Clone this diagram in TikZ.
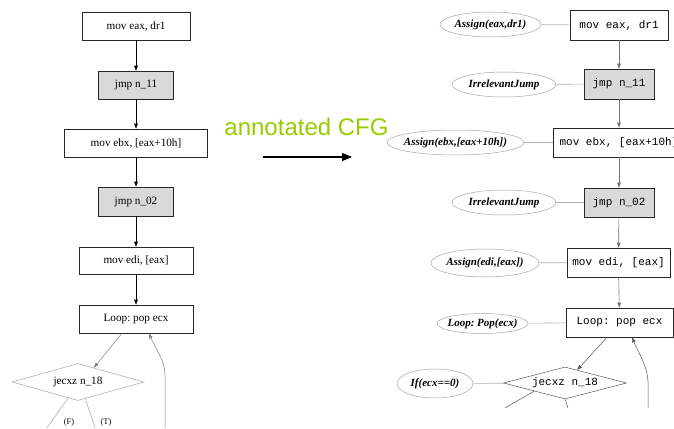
\documentclass[tikz,border=0pt]{standalone}
\usepackage{fontspec}
\setmainfont{Liberation Serif}
\newfontfamily\sansf{Liberation Sans}
\newfontfamily\monof{Liberation Mono}
\usetikzlibrary{shapes.geometric,arrows.meta,calc}
\definecolor{cfggreen}{HTML}{99CC00}
\frenchspacing
\newcommand{\anntext}[1]{\makebox[0pt][c]{#1}}
\begin{document}
\begin{tikzpicture}[x=1pt,y=-1pt,
  lbox/.style={draw=black!85, line width=0.6pt, rectangle, inner sep=0pt, font=\fontsize{11.2}{13}\selectfont},
  rbox/.style={draw=black!85, line width=0.6pt, rectangle, inner sep=0pt, font=\monof\fontsize{11}{13}\selectfont},
  gfill/.style={fill=black!15},
  ann/.style={draw=black!35, line width=0.5pt, ellipse, inner sep=0pt, font=\bfseries\itshape\fontsize{11}{13}\selectfont},
  ldia/.style={draw=black!35, line width=0.5pt, diamond, aspect=3.57, inner sep=0pt, font=\fontsize{11.2}{13}\selectfont},
  rdia/.style={draw=black!65, line width=0.5pt, diamond, aspect=3.84, inner sep=0pt, font=\monof\fontsize{11}{13}\selectfont},
  arrhead/.style={-{Triangle[length=5pt,width=3.6pt]}},
  larr/.style={arrhead, draw=black, line width=0.6pt},
  lgarr/.style={arrhead, draw=black!50, line width=0.5pt},
  rarr/.style={arrhead, draw=black!55, line width=0.6pt},
  rdarr/.style={arrhead, draw=black!65, line width=0.5pt},
  link/.style={draw=black!30, line width=0.6pt},
  elab/.style={font=\fontsize{8.5}{10}\selectfont, inner sep=0pt}
]
\useasboundingbox (0,0) rectangle (674,428);
\fill[white] (0,0) rectangle (674,428);
\clip (0,0) rectangle (674,428);

% ---------- left CFG ----------
\node[lbox, minimum width=108pt, minimum height=28pt] (L1) at (136,26) {mov eax, dr1};
\node[lbox, gfill, minimum width=75pt, minimum height=28pt] (L2) at (136,85) {jmp n\_11};
\node[lbox, minimum width=143pt, minimum height=28pt] (L3) at (136,143) {mov ebx, [eax+10h]};
\node[lbox, gfill, minimum width=75pt, minimum height=29pt] (L4) at (136,201.5) {jmp n\_02};
\node[lbox, minimum width=114pt, minimum height=27pt] (L5) at (136,260.5) {mov edi, [eax]};
\node[lbox, minimum width=114pt, minimum height=28pt] (L6) at (136,319) {Loop: pop ecx};
\node[ldia, minimum width=132pt, minimum height=37pt] (LD) at (78,382) {jecxz n\_18};

\draw[larr] (L1) -- (L2);
\draw[larr] (L2) -- (L3);
\draw[larr] (L3) -- (L4);
\draw[larr] (L4) -- (L5);
\draw[larr] (L5) -- (L6);
\draw[lgarr] ([xshift=-14pt]L6.south) -- (LD.42);

\coordinate (lf) at (47,428);
\coordinate (lt) at (95,428);
\coordinate (lbk) at (165,428);
\draw[draw=black!35, line width=0.5pt] (LD.-122) -- (lf);
\draw[draw=black!35, line width=0.5pt] (LD.-66) -- (lt);
\draw[lgarr] (lbk) -- (165,375) .. controls (165,360) and (155,348) .. ([xshift=13pt]L6.south);
\node[elab] (lfl) at (69,422) {(F)};
\node[elab] (ltl) at (106,422) {(T)};

% ---------- arrow and caption ----------
\node[font=\sansf\fontsize{24}{28}\selectfont, text=cfggreen, anchor=base, inner sep=0pt] (cap) at (306.5,135) {annotated CFG};
\coordinate (a1) at (263,157);
\coordinate (a2) at (352,157);
\draw[-{Triangle[length=10pt,width=8pt]}, line width=1.1pt] (a1) -- (a2);

% ---------- right annotated CFG ----------
\node[rbox, minimum width=98pt, minimum height=30pt] (R1) at (619,25) {mov eax, dr1};
\node[rbox, gfill, minimum width=70pt, minimum height=30pt] (R2) at (619,84) {jmp n\_11};
\node[rbox, minimum width=132pt, minimum height=29pt] (R3) at (619,142.5) {mov ebx, [eax+10h]};
\node[rbox, gfill, minimum width=70pt, minimum height=29pt] (R4) at (619,202.5) {jmp n\_02};
\node[rbox, minimum width=103pt, minimum height=29pt] (R5) at (618.5,262.5) {mov edi, [eax]};
\node[rbox, minimum width=107pt, minimum height=29pt] (R6) at (619.5,322.5) {Loop: pop ecx};
\node[rdia, minimum width=123pt, minimum height=32pt] (RD) at (565,383) {jecxz n\_18};

\node[ann, minimum width=101pt, minimum height=25pt] (E1) at (490.5,24.5) {\anntext{Assign(eax,dr1)}};
\node[ann, minimum width=104pt, minimum height=25pt] (E2) at (504,84.5) {\anntext{IrrelevantJump}};
\node[ann, minimum width=137pt, minimum height=25pt] (E3) at (455.5,142.5) {\anntext{Assign(ebx,[eax+10h])}};
\node[ann, minimum width=104pt, minimum height=25pt] (E4) at (504,202.5) {\anntext{IrrelevantJump}};
\node[ann, minimum width=108pt, minimum height=28pt] (E5) at (485,263) {\anntext{Assign(edi,[eax])}};
\node[ann, minimum width=91pt, minimum height=20pt] (E6) at (482.5,323.5) {\anntext{Loop: Pop(ecx)}};
\node[ann, minimum width=76pt, minimum height=29pt] (E7) at (435,383.5) {\anntext{If(ecx==0)}};

\draw[link] (E1) -- (R1);
\draw[link] (E2) -- (R2);
\draw[link] (E3) -- (R3);
\draw[link] (E4) -- (R4);
\draw[link] (E5) -- (R5);
\draw[link] (E6) -- (R6);
\draw[link] (E7) -- (RD);

\draw[rarr] (R1) -- (R2);
\draw[rarr] (R2) -- (R3);
\draw[rarr] (R3) -- (R4);
\draw[rarr] (R4) -- (R5);
\draw[rarr] (R5) -- (R6);
\draw[rdarr] ([xshift=-12.5pt]R6.south) -- (RD.47);

\coordinate (rf) at (505,408);
\coordinate (rt) at (568,408);
\coordinate (rbk) at (648,408);
\draw[draw=black!65, line width=0.5pt] (RD.south west) -- (rf);
\draw[draw=black!65, line width=0.5pt] (RD.south) -- (rt);
\draw[rdarr] (rbk) -- (648,382) .. controls (648,367) and (638,352) .. ([xshift=12.5pt]R6.south);
\end{tikzpicture}
\end{document}
